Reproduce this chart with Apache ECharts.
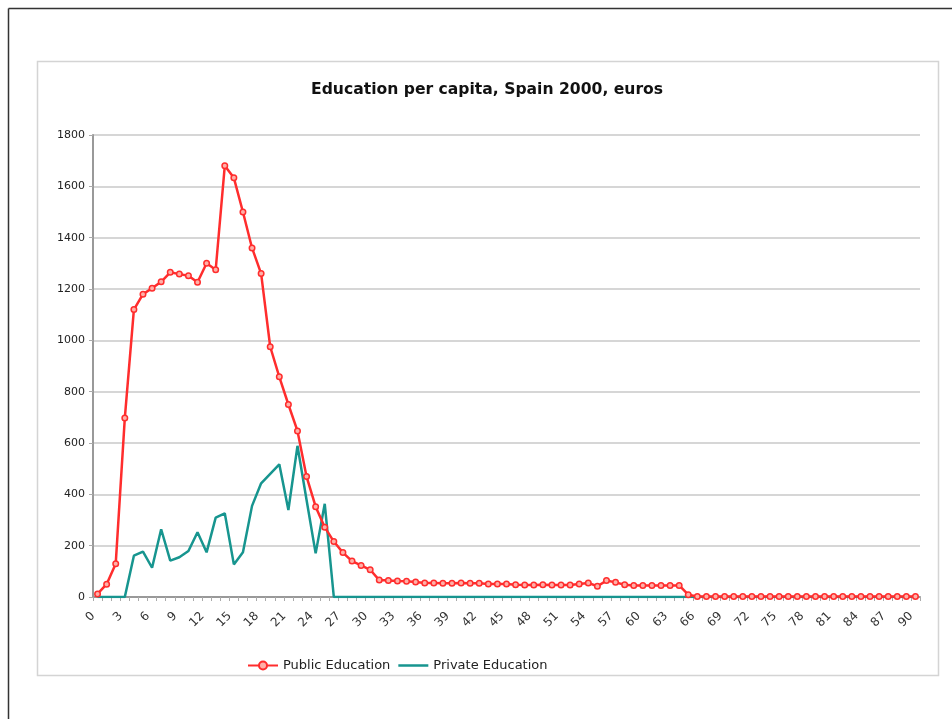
<!DOCTYPE html>
<html>
<head>
<meta charset="utf-8">
<title>Education per capita, Spain 2000, euros</title>
<script src="https://cdn.jsdelivr.net/npm/echarts@6/dist/echarts.min.js"></script>
<style>
  html, body { margin: 0; padding: 0; background: #fff; }
  #chart { width: 952px; height: 719px; }
</style>
</head>
<body>
<div id="chart"></div>
<script>
// Ages 0..90 on the category axis
var ages = [];
for (var a = 0; a <= 90; a++) ages.push(String(a));

// Public education spending per capita (euros), by age
var publicEducation = [
  12, 50, 130, 697, 1120, 1180, 1203, 1228, 1265, 1258,
  1252, 1226, 1300, 1275, 1680, 1633, 1500, 1360, 1260, 975,
  858, 750, 647, 469, 352, 272, 216, 173, 140, 123,
  106, 66, 64, 62, 61, 58, 55, 55, 54, 54,
  55, 54, 54, 51, 51, 51, 48, 47, 47, 48,
  47, 47, 47, 51, 55, 42, 64, 57, 48, 45,
  45, 45, 45, 45, 45, 9, 2, 2, 2, 2,
  2, 2, 2, 2, 2, 2, 2, 2, 2, 2,
  2, 2, 2, 2, 2, 2, 2, 2, 2, 2,
  2
];

// Private education spending per capita (euros), by age
var privateEducation = [
  0, 0, 0, 0, 161, 177, 114, 264, 142, 155,
  179, 252, 174, 309, 326, 127, 174, 355, 443, 480,
  517, 339, 589, 378, 170, 363, 0, 0, 0, 0,
  0, 0, 0, 0, 0, 0, 0, 0, 0, 0,
  0, 0, 0, 0, 0, 0, 0, 0, 0, 0,
  0, 0, 0, 0, 0, 0, 0, 0, 0, 0,
  0, 0, 0, 0, 0, 0, 0, 0, 0, 0,
  0, 0, 0, 0, 0, 0, 0, 0, 0, 0,
  0, 0, 0, 0, 0, 0, 0, 0, 0, 0,
  0
];

var seriesNames = ['Public Education', 'Private Education'];
var titleText = 'Education per capita, Spain 2000, euros';

var font = 'DejaVu Sans, Verdana, sans-serif';
var chart = echarts.init(document.getElementById('chart'), null, { renderer: 'canvas' });

chart.setOption({
  backgroundColor: '#ffffff',
  animation: false,
  title: {
    text: titleText,
    left: 306,
    top: 77,
    textStyle: { fontFamily: font, fontSize: 15.6, fontWeight: 'bold', color: '#111' }
  },
  legend: {
    data: [
      { name: seriesNames[0] },
      // plain line swatch, no marker
      { name: seriesNames[1], icon: 'path://M0,0 H30 V2.5 H0 Z' }
    ],
    left: 242,
    top: 654,
    itemWidth: 30,
    itemHeight: 10,
    itemGap: 8,
    textStyle: { fontFamily: font, fontSize: 13, color: '#222' }
  },
  graphic: [
    // outer frame lines
    { type: 'line', shape: { x1: 8.5, y1: 8.5, x2: 952, y2: 8.5 }, style: { stroke: '#333', lineWidth: 1.5 }, silent: true },
    { type: 'line', shape: { x1: 8.5, y1: 8.5, x2: 8.5, y2: 719 }, style: { stroke: '#333', lineWidth: 1.5 }, silent: true },
    // chart area box
    { type: 'rect', shape: { x: 37.5, y: 61.5, width: 901, height: 614 }, style: { fill: 'none', stroke: '#d4d4d4', lineWidth: 1.5 }, silent: true, z: -1 }
  ],
  grid: { left: 93, right: 32, top: 135, bottom: 122, containLabel: false },
  xAxis: {
    type: 'category',
    data: ages,
    boundaryGap: true,
    axisLine: { lineStyle: { color: '#999', width: 2 } },
    axisTick: { show: true, interval: 0, length: 4, lineStyle: { color: '#aaa' } },
    axisLabel: {
      interval: 2,
      rotate: 45,
      margin: 13,
      padding: [0, 6, 0, 0],
      fontFamily: font,
      fontSize: 12,
      color: '#333'
    },
    splitLine: { show: false }
  },
  yAxis: {
    type: 'value',
    min: 0,
    max: 1800,
    interval: 200,
    axisLine: { show: true, lineStyle: { color: '#999', width: 2 } },
    axisTick: { show: true, length: 4, lineStyle: { color: '#aaa' } },
    axisLabel: {
      fontFamily: font,
      fontSize: 11,
      color: '#222',
      margin: 8,
      formatter: function (v) { return String(v); }
    },
    splitLine: { lineStyle: { color: '#d6d6d6', width: 2 } }
  },
  series: [
    {
      name: seriesNames[0],
      type: 'line',
      data: publicEducation,
      z: 3,
      symbol: 'circle',
      symbolSize: 5.5,
      showAllSymbol: true,
      lineStyle: { color: '#ff2d2d', width: 2.5 },
      itemStyle: { color: '#ffb0a8', borderColor: '#ff2d2d', borderWidth: 1.5 }
    },
    {
      name: seriesNames[1],
      type: 'line',
      data: privateEducation,
      z: 2,
      symbol: 'none',
      lineStyle: { color: '#17958f', width: 2.5 },
      itemStyle: { color: '#17958f' }
    }
  ]
});
</script>
</body>
</html>
